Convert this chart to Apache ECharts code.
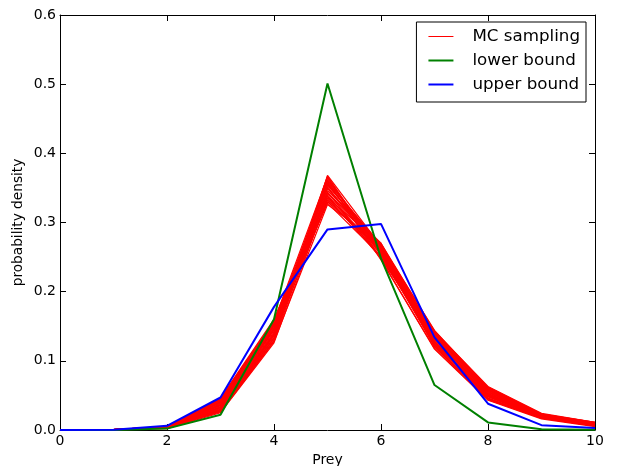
<!DOCTYPE html>
<html><head><meta charset="utf-8">
<script src="https://cdn.jsdelivr.net/npm/echarts@6/dist/echarts.min.js"></script>
<style>html,body{margin:0;padding:0;background:#fff}#c{width:619px;height:466px}</style>
</head><body><div id="c"></div>
<script>
const xValues = [0,1,2,3,4,5,6,7,8,9,10];
const lowerBound = [0,0,0.002,0.022,0.160,0.501,0.248,0.065,0.011,0.001,0.0002];
const upperBound = [0,0.0005,0.006,0.047,0.178,0.290,0.298,0.134,0.038,0.007,0.003];
const mc01 = [0,0.0004,0.003,0.028,0.130,0.368,0.266,0.128,0.050,0.018,0.006];
const mc02 = [0,0.0005,0.004,0.032,0.138,0.362,0.264,0.124,0.048,0.019,0.007];
const mc03 = [0,0.0006,0.005,0.036,0.146,0.356,0.260,0.120,0.046,0.018,0.008];
const mc04 = [0,0.0005,0.004,0.040,0.152,0.350,0.256,0.126,0.052,0.020,0.009];
const mc05 = [0,0.0007,0.005,0.044,0.158,0.344,0.248,0.132,0.056,0.021,0.010];
const mc06 = [0,0.0006,0.004,0.038,0.150,0.338,0.258,0.138,0.058,0.022,0.010];
const mc07 = [0,0.0005,0.003,0.030,0.136,0.332,0.262,0.142,0.062,0.023,0.011];
const mc08 = [0,0.0004,0.003,0.026,0.128,0.326,0.268,0.144,0.060,0.022,0.009];
const mc09 = [0,0.0006,0.005,0.042,0.156,0.360,0.246,0.118,0.044,0.017,0.006];
const mc10 = [0,0.0005,0.004,0.034,0.142,0.354,0.264,0.130,0.054,0.021,0.008];
const mc11 = [0,0.0005,0.004,0.030,0.134,0.346,0.270,0.136,0.056,0.020,0.008];
const mc12 = [0,0.0006,0.004,0.046,0.160,0.340,0.250,0.128,0.050,0.019,0.007];
const mc13 = [0,0.0004,0.003,0.033,0.140,0.364,0.256,0.122,0.046,0.017,0.006];
const mc14 = [0,0.0005,0.004,0.039,0.148,0.330,0.260,0.140,0.058,0.022,0.010];
const mc15 = [0,0.0007,0.005,0.043,0.154,0.352,0.254,0.124,0.050,0.019,0.008];
const mc16 = [0,0.0005,0.004,0.028,0.132,0.358,0.268,0.134,0.048,0.018,0.007];
const mc17 = [0,0.0003,0.002,0.025,0.126,0.335,0.270,0.143,0.063,0.024,0.011];
const mc18 = [0,0.0006,0.005,0.045,0.157,0.366,0.247,0.117,0.043,0.016,0.005];
const mc19 = [0,0.0005,0.004,0.035,0.144,0.342,0.262,0.134,0.055,0.021,0.009];
const mc20 = [0,0.0004,0.003,0.031,0.137,0.349,0.266,0.131,0.053,0.020,0.008];
const mc21 = [0,0.0006,0.004,0.041,0.151,0.328,0.252,0.141,0.061,0.023,0.011];
const mc22 = [0,0.0005,0.004,0.037,0.147,0.357,0.258,0.127,0.049,0.018,0.007];
const mc23 = [0,0.0005,0.003,0.029,0.133,0.361,0.262,0.126,0.051,0.019,0.007];
const mc24 = [0,0.0006,0.005,0.043,0.155,0.336,0.249,0.137,0.057,0.022,0.010];
const mc25 = [0,0.0004,0.003,0.027,0.129,0.343,0.268,0.139,0.059,0.022,0.009];
const mc26 = [0,0.0005,0.004,0.036,0.145,0.367,0.253,0.121,0.045,0.017,0.006];
const mc27 = [0,0.0006,0.005,0.040,0.153,0.333,0.255,0.135,0.060,0.023,0.010];
const mc28 = [0,0.0005,0.004,0.033,0.139,0.355,0.261,0.133,0.052,0.020,0.008];
const mcRuns = [mc01,mc02,mc03,mc04,mc05,mc06,mc07,mc08,mc09,mc10,mc11,mc12,mc13,mc14,
                mc15,mc16,mc17,mc18,mc19,mc20,mc21,mc22,mc23,mc24,mc25,mc26,mc27,mc28];
const xTicks = [0,2,4,6,8,10];
const yTicks = ['0.0','0.1','0.2','0.3','0.4','0.5','0.6'];

const pair = arr => arr.map((v,i)=>[xValues[i], v]);
const FONT = 'DejaVu Sans';
const series = [];
mcRuns.forEach(run => series.push({
  name:'MC sampling', type:'line', data:pair(run), showSymbol:false, symbol:'none',
  lineStyle:{color:'#ff0000', width:1.2}, itemStyle:{color:'#ff0000'}, silent:true, animation:false
}));
series.push({name:'lower bound', type:'line', data:pair(lowerBound), showSymbol:false, symbol:'none',
  lineStyle:{color:'#008000', width:2}, itemStyle:{color:'#008000'}, animation:false});
series.push({name:'upper bound', type:'line', data:pair(upperBound), showSymbol:false, symbol:'none',
  lineStyle:{color:'#0000ff', width:2}, itemStyle:{color:'#0000ff'}, animation:false});

const axisCommon = {
  axisLine:{show:true, onZero:false, lineStyle:{color:'#000', width:1}},
  axisTick:{show:true, inside:true, length:6, lineStyle:{color:'#000'}},
  splitLine:{show:false}
};
const chart = echarts.init(document.getElementById('c'));
chart.setOption({
  animation:false,
  grid:{left:60, right:24, top:15, bottom:36, containLabel:false, outerBoundsMode:'none'},
  legend:{
    data:[
      {name:'MC sampling', icon:'path://M0,0H25V1H0Z', itemStyle:{color:'#ff0000'}},
      {name:'lower bound', icon:'path://M0,0H25V2H0Z', itemStyle:{color:'#008000'}},
      {name:'upper bound', icon:'path://M0,0H25V2H0Z', itemStyle:{color:'#0000ff'}}
    ],
    right:33, top:22, orient:'vertical', itemWidth:25, itemHeight:17,
    itemGap:7, padding:[6,6,9,12], borderColor:'#000', borderWidth:1,
    textStyle:{fontFamily:FONT, fontSize:16.7, lineHeight:17, color:'#000', padding:[0,0,0,14]}
  },
  xAxis:[
    Object.assign({type:'value', min:0, max:10, interval:2, position:'bottom',
      name:'Prey', nameLocation:'middle', nameGap:21,
      nameTextStyle:{fontFamily:FONT, fontSize:14, color:'#000'},
      axisLabel:{fontFamily:FONT, fontSize:14, color:'#000', margin:4,
        formatter:v=> xTicks.indexOf(v)>=0 ? String(v) : ''}}, axisCommon),
    Object.assign({type:'value', min:0, max:10, interval:2, position:'top',
      axisLabel:{show:false}}, axisCommon)
  ],
  yAxis:[
    Object.assign({type:'value', min:0, max:0.6, interval:0.1, position:'left',
      name:'probability density', nameLocation:'middle', nameGap:35, nameMoveOverlap:false,
      nameTextStyle:{fontFamily:FONT, fontSize:13.7, color:'#000'},
      axisLabel:{fontFamily:FONT, fontSize:14, color:'#000', margin:4,
        formatter:v=> yTicks[Math.round(v*10)]}}, axisCommon),
    Object.assign({type:'value', min:0, max:0.6, interval:0.1, position:'right',
      axisLabel:{show:false}}, axisCommon)
  ],
  series:series
});
</script></body></html>
